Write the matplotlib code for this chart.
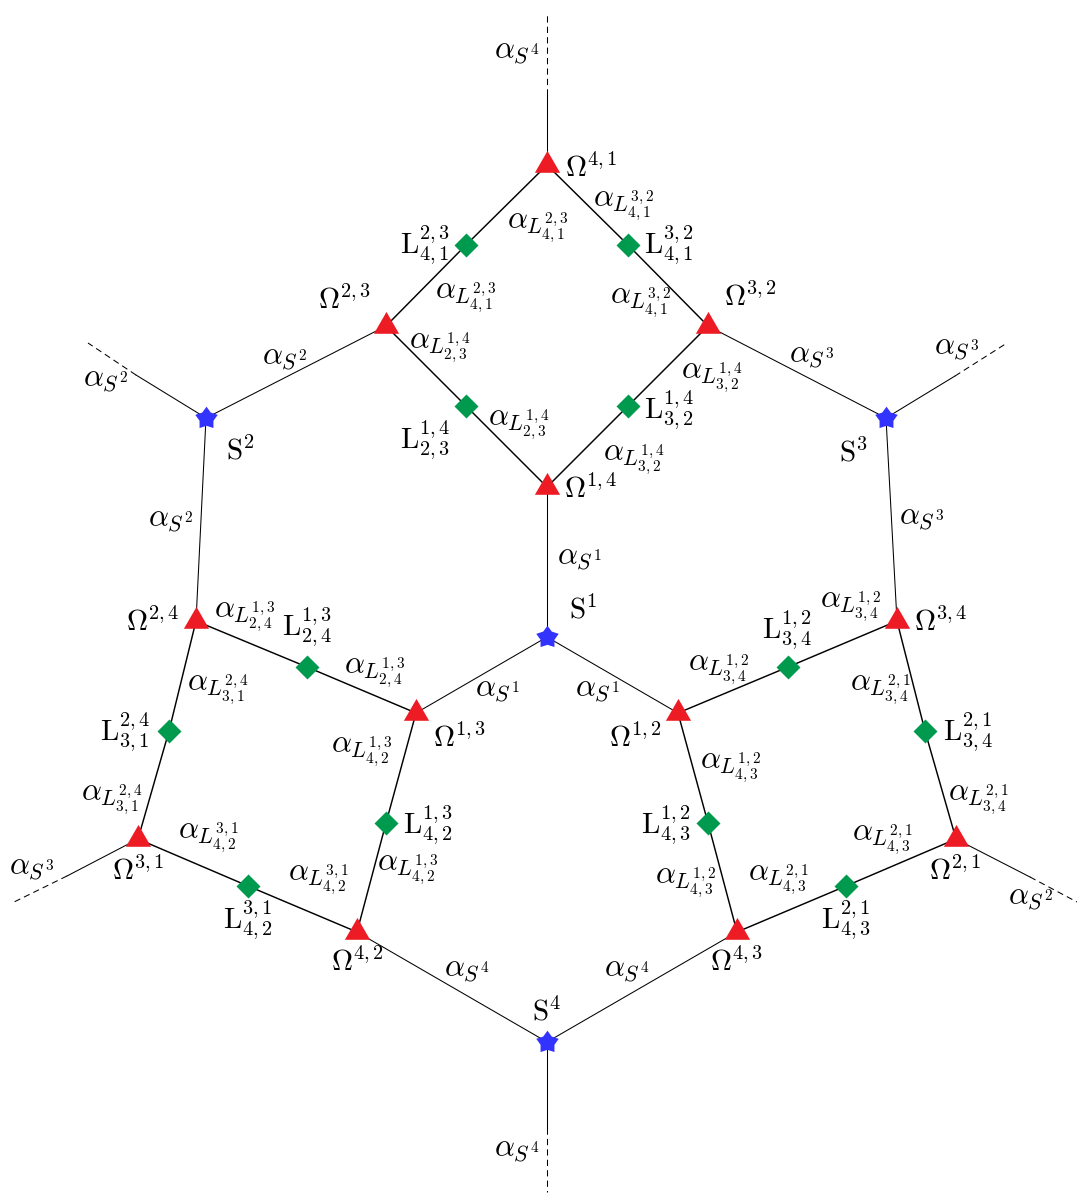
import matplotlib
matplotlib.use("Agg")
import matplotlib.pyplot as plt
import numpy as np

plt.rcParams['mathtext.fontset'] = 'cm'
plt.rcParams['font.family'] = ['DejaVu Sans']

# ---- nodes (pixel coordinates of the reference diagram) ----
node_names = ["O41", "L2341", "L3241", "O23", "O32", "L1423", "L1432", "O14",
              "S2", "S3", "S1", "O24", "O34", "L1324", "L1234", "O13", "O12",
              "L2431", "L2134", "L1342", "L1243", "O31", "O21", "L3142", "L2143",
              "O42", "O43", "S4"]
node_x = [547, 466, 628, 386, 708, 466, 628, 547,
          206, 886, 547, 196, 897, 307, 788, 416, 678,
          169, 925, 386, 708, 138, 956, 248, 846,
          357, 737, 547]
node_y = [165, 245, 245, 326, 326, 406, 406, 487,
          418, 418, 637, 621, 621, 667, 667, 713, 713,
          731, 731, 823, 823, 839, 839, 886, 886,
          932, 932, 1042]
node_kind = [n[0] for n in node_names]  # O, L, S

# ---- edges ----
edges_L = [("O41", "L2341"), ("L2341", "O23"), ("O41", "L3241"), ("L3241", "O32"),
           ("O23", "L1423"), ("L1423", "O14"), ("O32", "L1432"), ("L1432", "O14"),
           ("O24", "L1324"), ("L1324", "O13"), ("O34", "L1234"), ("L1234", "O12"),
           ("O24", "L2431"), ("L2431", "O31"), ("O34", "L2134"), ("L2134", "O21"),
           ("O13", "L1342"), ("L1342", "O42"), ("O12", "L1243"), ("L1243", "O43"),
           ("O31", "L3142"), ("L3142", "O42"), ("O21", "L2143"), ("L2143", "O43")]
edges_S = [("O23", "S2"), ("O32", "S3"), ("O14", "S1"), ("S2", "O24"), ("S3", "O34"),
           ("S1", "O13"), ("S1", "O12"), ("O42", "S4"), ("O43", "S4")]

# open ends: node, solid-end point, dashed-end point
open_node = ["O41", "S2", "S3", "O31", "O21", "S4"]
open_mid_x = [547, 136, 955, 67, 1030, 547]
open_mid_y = [95, 375, 376, 876, 877, 1128]
open_end_x = [547, 88, 1007, 12, 1077, 547]
open_end_y = [15, 343, 343, 903, 902, 1192]

# ---- labels ----
lab_text = [
    r"$\alpha_{S^4}$", r"$\Omega^{4,1}$", r"$\alpha_{L^{3,2}_{4,1}}$", r"$\alpha_{L^{2,3}_{4,1}}$",
    r"$\mathrm{L}^{2,3}_{4,1}$", r"$\mathrm{L}^{3,2}_{4,1}$", r"$\Omega^{2,3}$", r"$\Omega^{3,2}$",
    r"$\alpha_{L^{2,3}_{4,1}}$", r"$\alpha_{L^{3,2}_{4,1}}$", r"$\alpha_{L^{1,4}_{2,3}}$", r"$\alpha_{L^{1,4}_{3,2}}$",
    r"$\alpha_{S^2}$", r"$\alpha_{S^3}$", r"$\alpha_{S^2}$", r"$\alpha_{S^3}$",
    r"$\mathrm{S}^2$", r"$\mathrm{S}^3$", r"$\mathrm{L}^{1,4}_{2,3}$", r"$\mathrm{L}^{1,4}_{3,2}$",
    r"$\alpha_{L^{1,4}_{2,3}}$", r"$\alpha_{L^{1,4}_{3,2}}$", r"$\Omega^{1,4}$",
    r"$\alpha_{S^2}$", r"$\alpha_{S^3}$", r"$\alpha_{S^1}$", r"$\mathrm{S}^1$",
    r"$\Omega^{2,4}$", r"$\alpha_{L^{1,3}_{2,4}}$", r"$\mathrm{L}^{1,3}_{2,4}$",
    r"$\alpha_{L^{1,2}_{3,4}}$", r"$\Omega^{3,4}$", r"$\mathrm{L}^{1,2}_{3,4}$",
    r"$\alpha_{L^{1,3}_{2,4}}$", r"$\alpha_{L^{1,2}_{3,4}}$", r"$\alpha_{L^{2,4}_{3,1}}$", r"$\alpha_{L^{2,1}_{3,4}}$",
    r"$\alpha_{S^1}$", r"$\alpha_{S^1}$", r"$\Omega^{1,3}$", r"$\Omega^{1,2}$",
    r"$\mathrm{L}^{2,4}_{3,1}$", r"$\mathrm{L}^{2,1}_{3,4}$",
    r"$\alpha_{L^{1,3}_{4,2}}$", r"$\alpha_{L^{1,2}_{4,3}}$", r"$\alpha_{L^{2,4}_{3,1}}$", r"$\alpha_{L^{2,1}_{3,4}}$",
    r"$\mathrm{L}^{1,3}_{4,2}$", r"$\mathrm{L}^{1,2}_{4,3}$",
    r"$\alpha_{L^{3,1}_{4,2}}$", r"$\alpha_{L^{2,1}_{4,3}}$", r"$\alpha_{S^3}$",
    r"$\Omega^{3,1}$", r"$\Omega^{2,1}$",
    r"$\alpha_{L^{3,1}_{4,2}}$", r"$\alpha_{L^{1,3}_{4,2}}$", r"$\alpha_{L^{1,2}_{4,3}}$", r"$\alpha_{L^{2,1}_{4,3}}$",
    r"$\alpha_{S^2}$", r"$\mathrm{L}^{3,1}_{4,2}$", r"$\mathrm{L}^{2,1}_{4,3}$",
    r"$\Omega^{4,2}$", r"$\Omega^{4,3}$", r"$\alpha_{S^4}$", r"$\alpha_{S^4}$",
    r"$\mathrm{S}^4$", r"$\alpha_{S^4}$",
]
lab_x = [517, 591, 623, 538,
         425, 669, 345, 750,
         466, 640, 440, 712,
         284, 812, 105, 957,
         240, 853, 425, 669,
         519, 634, 591,
         170, 922, 579, 583,
         153, 245, 307,
         850, 941, 787,
         375, 718, 218, 880,
         497, 597, 460, 635,
         125, 968,
         362, 730, 112, 978,
         428, 666,
         208, 882, 32,
         138, 955,
         318, 408, 685, 778,
         1030, 248, 846,
         357, 737, 467, 627,
         547, 517]
lab_y = [52, 168, 206, 228,
         245, 245, 300, 297,
         298, 303, 348, 378,
         357, 355, 380, 347,
         451, 453, 440, 410,
         425, 460, 489,
         520, 518, 558, 610,
         622, 617, 627,
         607, 622, 630,
         673, 670, 690, 690,
         690, 690, 738, 738,
         732, 732,
         752, 768, 800, 800,
         825, 825,
         838, 840, 868,
         871, 871,
         880, 870, 883, 880,
         898, 920, 920,
         962, 962, 970, 970,
         1012, 1150]

COL_O = "#ED1C24"
COL_L = "#009A4E"
COL_S = "#3333FF"

fig = plt.figure(figsize=(10.77, 11.93), dpi=100)
ax = fig.add_axes([0, 0, 1, 1])
ax.set_xlim(0, 1077)
ax.set_ylim(1193, 0)
ax.axis("off")

pos = {n: (x, y) for n, x, y in zip(node_names, node_x, node_y)}

for a, b in edges_L:
    ax.plot([pos[a][0], pos[b][0]], [pos[a][1], pos[b][1]], color="black", lw=1.05, zorder=1)
for a, b in edges_S:
    ax.plot([pos[a][0], pos[b][0]], [pos[a][1], pos[b][1]], color="black", lw=0.75, zorder=1)

for n, mx, my, ex, ey in zip(open_node, open_mid_x, open_mid_y, open_end_x, open_end_y):
    ax.plot([pos[n][0], mx], [pos[n][1], my], color="black", lw=0.75, zorder=1)
    ax.plot([mx, ex], [my, ey], color="black", lw=0.75, ls=(0, (6, 4)), zorder=1)

# markers
tri = [(-0.5, -0.2887), (0.5, -0.2887), (0.0, 0.5774), (-0.5, -0.2887)]
ang_o = np.deg2rad(90 + 72 * np.arange(5))
ang_i = ang_o + np.deg2rad(36)
star = []
for ao, ai in zip(ang_o, ang_i):
    star.append((np.cos(ao), np.sin(ao)))
    star.append((0.62 * np.cos(ai), 0.62 * np.sin(ai)))
star.append(star[0])

for n, x, y, k in zip(node_names, node_x, node_y, node_kind):
    if k == "O":
        ax.plot(x, y, marker=tri, ms=21, color=COL_O, mec="none", zorder=3)
    elif k == "L":
        ax.plot(x, y, marker="D", ms=12, color=COL_L, mec="none", zorder=3)
    else:
        ax.plot(x, y, marker=star, ms=17, color=COL_S, mec="none", zorder=3)

for t, x, y in zip(lab_text, lab_x, lab_y):
    fs = 22.5 if t.startswith(r"$\alpha") else 21
    ax.text(x, y, t, ha="center", va="center", fontsize=fs, zorder=4)

fig.savefig("out.png", dpi=100)
